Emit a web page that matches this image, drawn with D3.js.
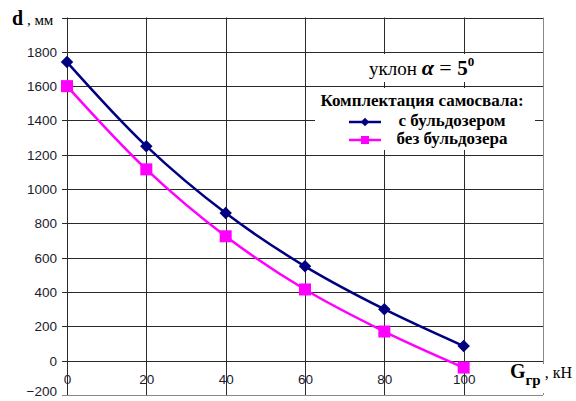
<!DOCTYPE html>
<html><head><meta charset="utf-8">
<script src="https://cdn.jsdelivr.net/npm/d3@7"></script>
<style>
html,body{margin:0;padding:0;background:#fff;}
svg{display:block;}
</style></head>
<body>
<div id="chart"></div>
<script>
const xValues = [0, 20, 40, 60, 80, 100];
const withDozer = [1740, 1250, 860, 550, 300, 85];
const withoutDozer = [1600, 1115, 725, 415, 170, -40];
const xTicks = [0, 20, 40, 60, 80, 100];
const yTicks = [-200, 0, 200, 400, 600, 800, 1000, 1200, 1400, 1600, 1800];
const seriesNames = ["с бульдозером", "без бульдозера"];

const W = 576, H = 401;
const svg = d3.select("#chart").append("svg").attr("width", W).attr("height", H);

const x = d3.scaleLinear().domain([0, 120]).range([67, 543]);
const y = d3.scaleLinear().domain([-200, 2000]).range([395, 17.5]);

const gridColor = "#2a2a2a";
const serif = "Liberation Serif";
const sans = "Liberation Sans";

// horizontal gridlines
svg.append("g").selectAll("line").data(d3.range(-200, 2001, 200)).join("line")
  .attr("x1", x(0) - 5).attr("x2", x(120))
  .attr("y1", d => Math.round(y(d)) + 0.5).attr("y2", d => Math.round(y(d)) + 0.5)
  .attr("stroke", d => d === -200 ? "#888" : gridColor).attr("stroke-width", 1);
// vertical gridlines
svg.append("g").selectAll("line").data(d3.range(0, 121, 20)).join("line")
  .attr("x1", d => Math.round(x(d)) + 0.5).attr("x2", d => Math.round(x(d)) + 0.5)
  .attr("y1", y(2000)).attr("y2", y(-200))
  .attr("stroke", d => d === 120 ? "#888" : gridColor).attr("stroke-width", 1);

// y tick labels via axis
const yAxis = svg.append("g").attr("transform", `translate(${x(0)},0)`)
  .call(d3.axisLeft(y).tickValues(yTicks).tickSize(0).tickPadding(10).tickFormat(d3.format("d")));
yAxis.select(".domain").remove();
yAxis.selectAll("text").attr("font-family", sans).attr("font-size", 13.5).attr("fill", "#1c1c2c");
yAxis.selectAll(".tick").filter(d => d === -200).select("text").attr("dy", "0.05em");

// x tick labels
const xAxis = svg.append("g").attr("transform", `translate(0,${y(0)})`)
  .call(d3.axisBottom(x).tickValues(xTicks).tickSize(0).tickPadding(14).tickFormat(d3.format("d")));
xAxis.select(".domain").remove();
xAxis.selectAll("text").attr("font-family", sans).attr("font-size", 13.5).attr("fill", "#1c1c2c");

// lines
const line = d3.line().x(d => x(d[0])).y(d => y(d[1])).curve(d3.curveCatmullRom.alpha(0.5));
const s1 = xValues.map((v, i) => [v, withDozer[i]]);
const s2 = xValues.map((v, i) => [v, withoutDozer[i]]);

svg.append("path").datum(s2).attr("d", line).attr("fill", "none").attr("stroke", "#ff00ff").attr("stroke-width", 2.5);
svg.append("path").datum(s1).attr("d", line).attr("fill", "none").attr("stroke", "#000080").attr("stroke-width", 2.5);

svg.append("g").selectAll("rect").data(s2).join("rect")
  .attr("x", d => x(d[0]) - 6).attr("y", d => y(d[1]) - 6).attr("width", 12).attr("height", 12)
  .attr("fill", "#ff00ff");
svg.append("g").selectAll("path").data(s1).join("path")
  .attr("d", d3.symbol().type(d3.symbolSquare).size(78))
  .attr("transform", d => `translate(${x(d[0])},${y(d[1])}) rotate(45)`)
  .attr("fill", "#000080");

// y title
const yt = svg.append("text").attr("x", 12).attr("y", 25).attr("font-family", serif).attr("fill", "#000");
yt.append("tspan").attr("font-weight", "bold").attr("font-size", 20).text("d");
yt.append("tspan").attr("font-size", 15).text(" , мм");

// x title with white background
svg.append("rect").attr("x", 506).attr("y", 364).attr("width", 70).attr("height", 29).attr("fill", "#fff");
const xt = svg.append("text").attr("x", 510).attr("y", 378).attr("font-family", serif).attr("fill", "#000");
xt.append("tspan").attr("font-weight", "bold").attr("font-size", 20).text("G");
xt.append("tspan").attr("font-weight", "bold").attr("font-size", 15).attr("dy", 7).text("гр");
xt.append("tspan").attr("font-size", 16).attr("dy", -7).text(" , кН");

// slope text box
svg.append("rect").attr("x", 362).attr("y", 54).attr("width", 145).attr("height", 28).attr("fill", "#fff");
const st = svg.append("text").attr("x", 369).attr("y", 75).attr("font-family", serif).attr("fill", "#000");
st.append("tspan").attr("font-size", 19).text("уклон ");
st.append("tspan").attr("font-size", 22).attr("font-weight", "bold").attr("font-style", "italic").text("α");
st.append("tspan").attr("font-size", 22).text(" = ");
st.append("tspan").attr("font-size", 21).attr("font-weight", "bold").text("5");
st.append("tspan").attr("font-size", 13).attr("font-weight", "bold").attr("dy", -9).text("0");

// legend box
svg.append("rect").attr("x", 315).attr("y", 88).attr("width", 220).attr("height", 62).attr("fill", "#fff");
svg.append("text").attr("x", 422).attr("y", 106).attr("text-anchor", "middle")
  .attr("font-family", serif).attr("font-weight", "bold").attr("font-size", 17).attr("fill", "#000")
  .text("Комплектация самосвала:");
const legColors = ["#000080", "#ff00ff"];
const legY = [122, 140];
seriesNames.forEach((name, i) => {
  svg.append("line").attr("x1", 349).attr("x2", 381).attr("y1", legY[i]).attr("y2", legY[i])
    .attr("stroke", legColors[i]).attr("stroke-width", 2.5);
  if (i === 0) {
    svg.append("path").attr("d", d3.symbol().type(d3.symbolSquare).size(36)())
      .attr("transform", `translate(365,${legY[i]}) rotate(45)`).attr("fill", legColors[i]);
  } else {
    svg.append("rect").attr("x", 361).attr("y", legY[i] - 4).attr("width", 8).attr("height", 8).attr("fill", legColors[i]);
  }
  svg.append("text").attr("x", 452).attr("y", legY[i] + 4).attr("text-anchor", "middle")
    .attr("font-family", serif).attr("font-weight", "bold").attr("font-size", 17).attr("fill", "#000").text(name);
});
</script>
</body></html>
